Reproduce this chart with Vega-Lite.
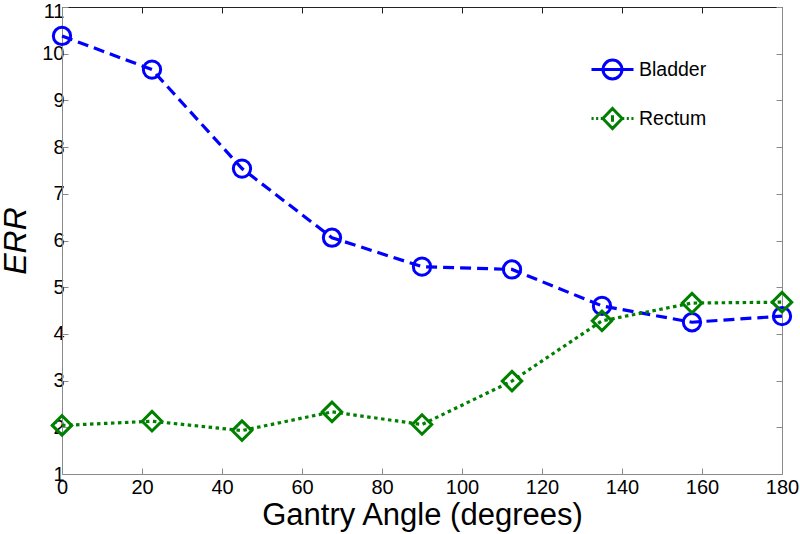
{
  "$schema": "https://vega.github.io/schema/vega-lite/v6.json",
  "width": 720,
  "height": 467,
  "autosize": "none",
  "padding": {"left": 62, "top": 7, "right": 18, "bottom": 60},
  "background": "white",
  "config": {
    "font": "Liberation Sans",
    "view": {"stroke": null},
    "axis": {"grid": false, "labelFont": "Liberation Sans", "titleFont": "Liberation Sans", "labelColor": "#000", "titleColor": "#000", "titleFontWeight": "normal"}
  },
  "data": {
    "values": [
      {"angle": 0, "err": 10.38, "series": "Bladder"},
      {"angle": 22.5, "err": 9.66, "series": "Bladder"},
      {"angle": 45, "err": 7.54, "series": "Bladder"},
      {"angle": 67.5, "err": 6.06, "series": "Bladder"},
      {"angle": 90, "err": 5.44, "series": "Bladder"},
      {"angle": 112.5, "err": 5.38, "series": "Bladder"},
      {"angle": 135, "err": 4.6, "series": "Bladder"},
      {"angle": 157.5, "err": 4.25, "series": "Bladder"},
      {"angle": 180, "err": 4.38, "series": "Bladder"},
      {"angle": 0, "err": 2.04, "series": "Rectum"},
      {"angle": 22.5, "err": 2.13, "series": "Rectum"},
      {"angle": 45, "err": 1.93, "series": "Rectum"},
      {"angle": 67.5, "err": 2.33, "series": "Rectum"},
      {"angle": 90, "err": 2.06, "series": "Rectum"},
      {"angle": 112.5, "err": 2.99, "series": "Rectum"},
      {"angle": 135, "err": 4.28, "series": "Rectum"},
      {"angle": 157.5, "err": 4.66, "series": "Rectum"},
      {"angle": 180, "err": 4.68, "series": "Rectum"}
    ]
  },
  "resolve": {"axis": {"x": "independent", "y": "independent"}},
  "layer": [
    {
      "transform": [{"filter": "false"}],
      "mark": {"type": "point", "filled": false, "strokeWidth": 3, "opacity": 1},
      "encoding": {
        "x": {"field": "angle", "type": "quantitative", "scale": {"domain": [0, 180], "nice": false},
          "axis": {"orient": "bottom", "values": [0, 20, 40, 60, 80, 100, 120, 140, 160, 180], "title": "Gantry Angle (degrees)", "titleFontSize": 31, "titlePadding": 3, "labelFontSize": 20, "labelPadding": 9, "tickSize": -6, "domainColor": "#8a8a8a", "tickColor": "#8a8a8a", "labelFlush": false}},
        "y": {"field": "err", "type": "quantitative", "scale": {"domain": [1, 11], "nice": false, "zero": false},
          "axis": {"orient": "left", "values": [1, 2, 3, 4, 5, 6, 7, 8, 9, 10, 11], "title": "ERR", "titleFontSize": 32, "titleFontStyle": "italic", "titlePadding": 9, "labelFontSize": 20, "labelPadding": 4, "tickSize": -6, "domainColor": "#8a8a8a", "tickColor": "#8a8a8a", "labelFlush": false,
            "labelOffset": {"condition": {"test": "datum.value === 11", "value": 4}, "value": 0}}},
        "color": {"field": "series", "type": "nominal", "scale": {"domain": ["Bladder", "Rectum"], "range": ["#0000ff", "#008000"]},
          "legend": {
            "orient": "none", "legendX": 528, "legendY": 40, "title": null, "padding": 0,
            "symbolSize": 1764, "symbolStrokeWidth": 3, "symbolFillColor": "transparent", "rowPadding": 11,
            "labelFontSize": 19.5, "labelFont": "Liberation Sans", "labelColor": "#000", "labelOffset": 4
          }},
        "shape": {"field": "series", "type": "nominal", "legend": null,
          "scale": {"domain": ["Bladder", "Rectum"], "range": [
            "M-1,0H1M-0.45,0A0.45,0.45 0 1,1 0.45,0A0.45,0.45 0 1,1 -0.45,0Z",
            "M-1,0H-0.9M-0.78,0H-0.68M-0.56,0H-0.46M0.46,0H0.56M0.68,0H0.78M0.9,0H1M0,-0.48L0.46,0L0,0.48L-0.46,0ZM0,-0.15V0.15"
          ]}}
      }
    },
    {
      "transform": [{"filter": "datum.series === 'Bladder'"}],
      "mark": {"type": "line", "strokeWidth": 3.2, "strokeDash": [11, 6]},
      "encoding": {
        "x": {"field": "angle", "type": "quantitative", "axis": null},
        "y": {"field": "err", "type": "quantitative", "axis": null},
        "color": {"field": "series", "type": "nominal"}
      }
    },
    {
      "transform": [{"filter": "datum.series === 'Rectum'"}],
      "mark": {"type": "line", "strokeWidth": 3.2, "strokeDash": [3.5, 3.5]},
      "encoding": {
        "x": {"field": "angle", "type": "quantitative", "axis": null},
        "y": {"field": "err", "type": "quantitative", "axis": null},
        "color": {"field": "series", "type": "nominal"}
      }
    },
    {
      "transform": [{"filter": "datum.series === 'Bladder'"}],
      "mark": {"type": "point", "shape": "circle", "filled": false, "strokeWidth": 3, "size": 300, "opacity": 1},
      "encoding": {
        "x": {"field": "angle", "type": "quantitative",
          "axis": {"orient": "top", "values": [0, 20, 40, 60, 80, 100, 120, 140, 160, 180], "labels": false, "title": null, "tickSize": -6, "domainColor": "#222", "tickColor": "#222"}},
        "y": {"field": "err", "type": "quantitative",
          "axis": {"orient": "right", "values": [1, 2, 3, 4, 5, 6, 7, 8, 9, 10, 11], "labels": false, "title": null, "tickSize": -6, "domainColor": "#8a8a8a", "tickColor": "#8a8a8a"}},
        "color": {"field": "series", "type": "nominal"}
      }
    },
    {
      "transform": [{"filter": "datum.series === 'Rectum'"}],
      "mark": {"type": "point", "shape": "diamond", "filled": false, "strokeWidth": 3, "size": 380, "opacity": 1},
      "encoding": {
        "x": {"field": "angle", "type": "quantitative", "axis": null},
        "y": {"field": "err", "type": "quantitative", "axis": null},
        "color": {"field": "series", "type": "nominal"}
      }
    }
  ]
}
